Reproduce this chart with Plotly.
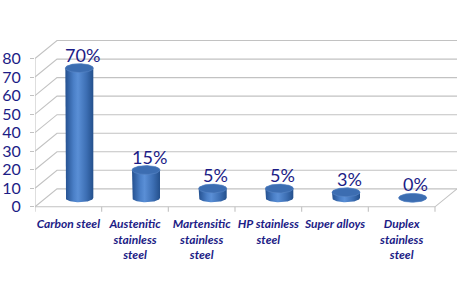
import plotly.graph_objects as go
import math

categories = ["Carbon steel", "Austenitic<br>stainless<br>steel", "Martensitic<br>stainless<br>steel",
              "HP stainless<br>steel", "Super alloys", "Duplex<br>stainless<br>steel"]
values = [70, 15, 5, 5, 3, 0]
labels = ["70%", "15%", "5%", "5%", "3%", "0%"]
y_ticks = [0, 10, 20, 30, 40, 50, 60, 70, 80]

# 3D depth offset (data units)
DX = 0.33
DY = 9.7
RX = 0.21
RY = 2.4

NAVY = "#1c1c86"
GRID = "#c2c2c2"

fig = go.Figure()
n = len(categories)
x0, x1 = -0.5, n - 0.5

def add_line(xs, ys, color=GRID, width=1.1):
    fig.add_trace(go.Scatter(x=xs, y=ys, mode="lines", line=dict(color=color, width=width),
                             hoverinfo="skip", showlegend=False))

# back wall gridlines + left wall diagonals
for v in y_ticks:
    add_line([x0, x0 + DX, x1 + DX], [v, v + DY, v + DY])
# left front edge
add_line([x0, x0], [0, y_ticks[-1]])
# floor front edge and right diagonal
add_line([x0, x1, x1 + DX], [0, 0, DY])
# category boundary ticks
for k in range(n + 1):
    b = x0 + k
    add_line([b, b], [0, -2.6])

T = 40
for i, v in enumerate(values):
    xc = i + DX / 2
    yb = DY / 2
    yt = v + DY / 2
    xs, ys = [], []
    xs += [xc - RX, xc - RX]
    ys += [yt, yb]
    for k in range(T + 1):
        a = math.pi * k / T
        xs.append(xc - RX * math.cos(a))
        ys.append(yb - RY * math.sin(a))
    xs.append(xc + RX)
    ys.append(yt)
    for k in range(T + 1):
        a = math.pi * k / T
        xs.append(xc + RX * math.cos(a))
        ys.append(yt + RY * math.sin(a))
    fig.add_trace(go.Scatter(
        x=xs, y=ys, mode="lines", fill="toself", line=dict(width=0, color="rgba(0,0,0,0)"),
        fillgradient=dict(type="horizontal",
                          colorscale=[[0, "#24508f"], [0.3, "#4b80c8"], [0.45, "#5a8fd6"],
                                      [0.75, "#3d6fb4"], [1, "#24508c"]]),
        hoverinfo="skip", showlegend=False))
    ex, ey = [], []
    for k in range(2 * T + 1):
        a = 2 * math.pi * k / (2 * T)
        ex.append(xc + RX * math.cos(a))
        ey.append(yt + RY * math.sin(a))
    fig.add_trace(go.Scatter(
        x=ex, y=ey, mode="lines", fill="toself", line=dict(width=0.6, color="#5b88c8"),
        fillcolor="#3c6db1", hoverinfo="skip", showlegend=False))
    fig.add_annotation(x=xc, y=yt + RY, text=labels[i], showarrow=False,
                       yanchor="bottom", xanchor="center", xshift=3, yshift=-4,
                       font=dict(family="Lato", size=18, color=NAVY))

fig.update_layout(
    width=460, height=296,
    margin=dict(l=35, r=3, t=40, b=84),
    paper_bgcolor="white", plot_bgcolor="white",
    xaxis=dict(range=[x0, x1 + DX], tickmode="array", tickvals=list(range(n)), ticktext=categories,
               showgrid=False, zeroline=False, showline=False, ticks="",
               tickfont=dict(family="Lato", size=12, color=NAVY, weight="bold", style="italic"),
               ticklabelstandoff=3, tickangle=0),
    yaxis=dict(range=[-2.8, 90], tickmode="array", tickvals=y_ticks, ticktext=[str(v) for v in y_ticks],
               showgrid=False, zeroline=False, showline=False, ticks="outside", ticklen=4,
               tickcolor=GRID, tickfont=dict(family="Lato", size=16, color=NAVY),
               ticklabelstandoff=6),
)

fig.write_html("out.html")
